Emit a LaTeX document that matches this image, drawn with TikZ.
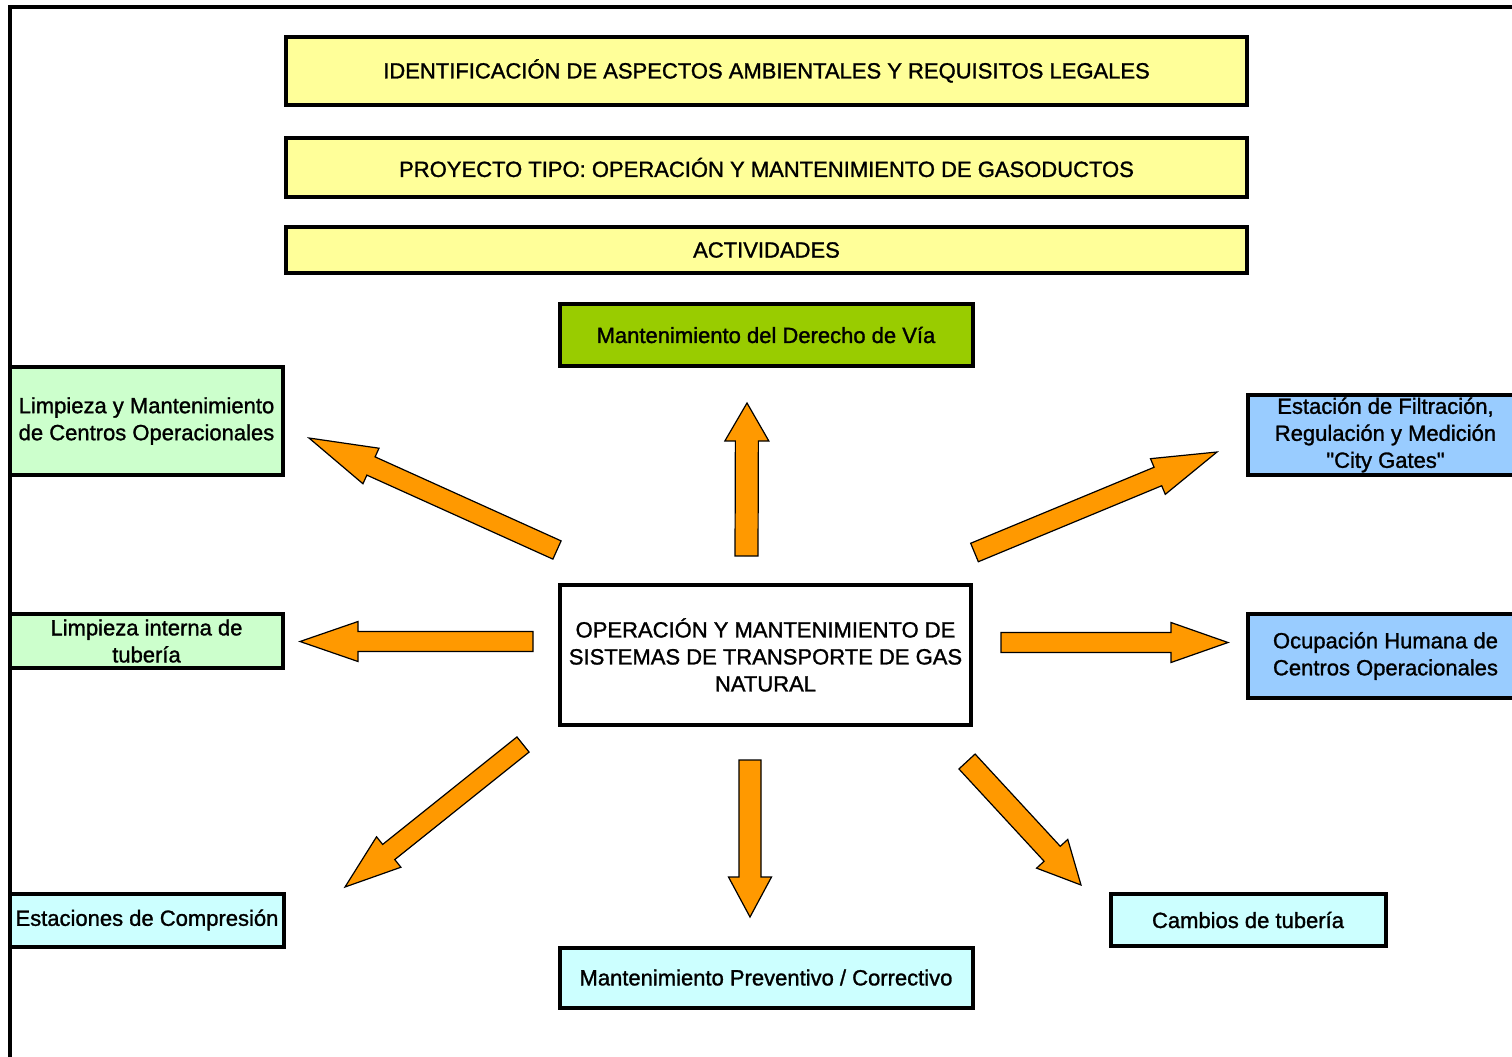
\documentclass[tikz,border=0pt]{standalone}
\usepackage{fontspec}
\newfontfamily\labelfont{Liberation Sans}[FakeBold=1.3]
\usetikzlibrary{calc}

\definecolor{paleyellow}{HTML}{FFFF99}
\definecolor{leafgreen}{HTML}{99CC00}
\definecolor{mintgreen}{HTML}{CCFFCC}
\definecolor{palecyan}{HTML}{CCFFFF}
\definecolor{skyblue}{HTML}{99CCFF}
\definecolor{arroworange}{HTML}{FF9900}

% Block arrow: #1 tail, #2 tip, #3 half shaft width, #4 half head width, #5 head length
\newcommand\blockarrow[5]{%
  \coordinate (neck) at ($(#2)!#5!(#1)$);
  \draw[blockarrowstyle]
    ($(#1)!#3!90:(#2)$) -- ($(neck)!#3!90:(#2)$) -- ($(neck)!#4!90:(#2)$)
    -- (#2)
    -- ($(neck)!#4!-90:(#2)$) -- ($(neck)!#3!-90:(#2)$) -- ($(#1)!#3!-90:(#2)$)
    -- cycle;
}

\tikzset{
  box/.style={draw=black, line width=4pt, inner sep=0pt, align=center,
    font=\labelfont\fontsize{22}{27}\selectfont, text=black},
  blockarrowstyle/.style={fill=arroworange, draw=black, line width=1.2pt, line join=miter},
}

\begin{document}
\begin{tikzpicture}[x=1pt, y=-1pt]
\clip (0,0) rectangle (1512,1057);
\fill[white] (0,0) rectangle (1512,1057);

% outer frame
\draw[line width=4pt] (10,7) rectangle (1540,1080);

% header bars
\node[box, fill=paleyellow, minimum width=961pt, minimum height=68pt] (hdr1) at (766.5,71)
  {IDENTIFICACIÓN DE ASPECTOS AMBIENTALES Y REQUISITOS LEGALES};
\node[box, fill=paleyellow, minimum width=961pt, minimum height=59pt] (hdr2) at (766.5,167.5)
  {PROYECTO TIPO: OPERACIÓN Y MANTENIMIENTO DE GASODUCTOS};
\node[box, fill=paleyellow, minimum width=961pt, minimum height=46pt] (hdr3) at (766.5,250)
  {ACTIVIDADES};

% activities
\node[box, fill=leafgreen, minimum width=413pt, minimum height=62pt] (via) at (766,335)
  {Mantenimiento del Derecho de Vía};
\node[box, fill=white, minimum width=411pt, minimum height=140pt] (core) at (765.5,655)
  {OPERACIÓN Y MANTENIMIENTO DE\\SISTEMAS DE TRANSPORTE DE GAS\\NATURAL};
\node[box, fill=mintgreen, minimum width=273pt, minimum height=108pt] (centros) at (146.5,421)
  {Limpieza y Mantenimiento\\de Centros Operacionales};
\node[box, fill=mintgreen, minimum width=273pt, minimum height=54pt] (interna) at (146.5,641)
  {Limpieza interna de\\tubería};
\node[box, fill=palecyan, minimum width=274pt, minimum height=53pt] (compresion) at (147,920)
  {Estaciones de Compresión};
\node[box, fill=palecyan, minimum width=413pt, minimum height=60pt] (preventivo) at (766,977.5)
  {Mantenimiento Preventivo / Correctivo};
\node[box, fill=palecyan, minimum width=275pt, minimum height=52.5pt] (cambios) at (1248,920)
  {Cambios de tubería};
\node[box, fill=skyblue, minimum width=275pt, minimum height=80pt] (citygates) at (1385.5,435)
  {Estación de Filtración,\\Regulación y Medición\\"City Gates"};
\node[box, fill=skyblue, minimum width=275pt, minimum height=84.5pt] (ocupacion) at (1385.5,656)
  {Ocupación Humana de\\Centros Operacionales};

% arrow end points
\coordinate (upT) at (746.5,556);   \coordinate (upH) at (747,403);
\coordinate (dnT) at (750,760);     \coordinate (dnH) at (750,917);
\coordinate (lfT) at (533,641.5);   \coordinate (lfH) at (300,641.5);
\coordinate (rtT) at (1001,642.5);  \coordinate (rtH) at (1228,642.5);
\coordinate (ulT) at (557,550);     \coordinate (ulH) at (309,438);
\coordinate (urT) at (974.5,552.5); \coordinate (urH) at (1217,452);
\coordinate (llT) at (523,744.5);   \coordinate (llH) at (345,887);
\coordinate (lrT) at (967,761.5);   \coordinate (lrH) at (1081,885);

% radiating arrows
\blockarrow{upT}{upH}{11.5pt}{22pt}{38pt}
\blockarrow{dnT}{dnH}{11pt}{21.5pt}{40pt}
\blockarrow{lfT}{lfH}{10pt}{20pt}{58pt}
\blockarrow{rtT}{rtH}{10pt}{20pt}{57pt}
\blockarrow{ulT}{ulH}{10pt}{19.5pt}{68pt}
\blockarrow{urT}{urH}{10pt}{19.3pt}{64pt}
\blockarrow{llT}{llH}{9.7pt}{19.5pt}{56pt}
\blockarrow{lrT}{lrH}{11pt}{21.2pt}{42.5pt}
\end{tikzpicture}
\end{document}
